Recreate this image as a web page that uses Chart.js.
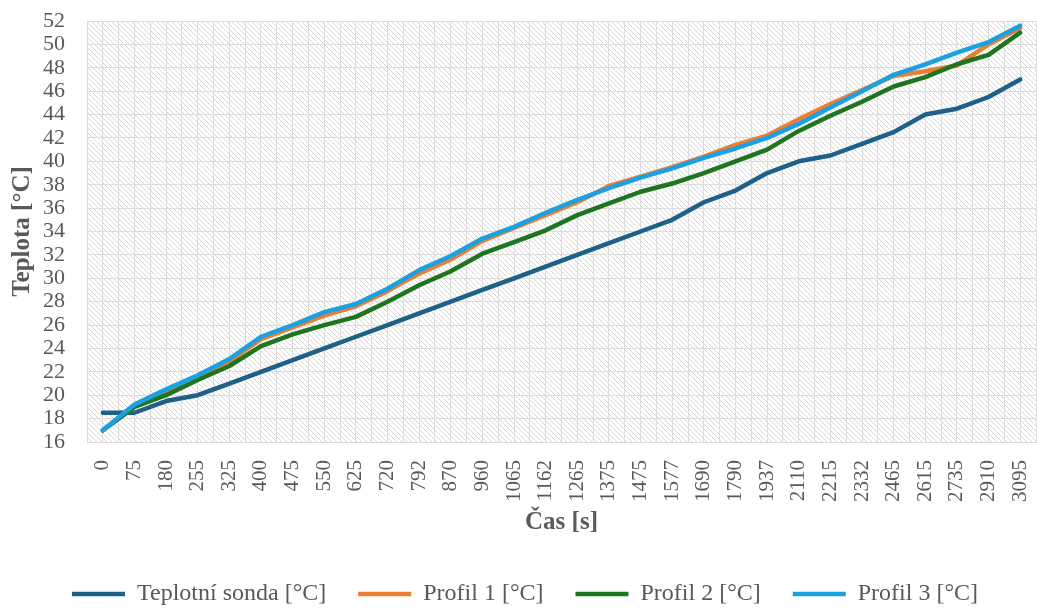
<!DOCTYPE html>
<html lang="cs">
<head>
    <meta charset="UTF-8">
    <title>Teplota v čase</title>
    <script src="https://cdn.jsdelivr.net/npm/chart.js"></script>
    <style>
        html, body { margin: 0; padding: 0; background: #fff; overflow: hidden; }
        #wrap { width: 1037px; height: 608px; }
    </style>
</head>
<body>
<div id="wrap"><canvas id="tempChart" width="1037" height="608"></canvas></div>

<script>
    // data
    const casLabels = ['0', '75', '180', '255', '325', '400', '475', '550', '625', '720', '792', '870', '960', '1065', '1162',
        '1265', '1375', '1475', '1577', '1690', '1790', '1937', '2110', '2215', '2332', '2465', '2615', '2735', '2910', '3095'];

    const sonda = [18.5, 18.5, 19.5, 20, 21, 22, 23, 24, 25, 26, 27, 28, 29, 30, 31,
        32, 33, 34, 35, 36.5, 37.5, 39, 40, 40.5, 41.5, 42.5, 44, 44.5, 45.5, 47];
    const profil1 = [17, 19, 20.3, 21.6, 22.9, 24.8, 25.8, 26.8, 27.6, 28.9, 30.4, 31.6, 33.2, 34.3, 35.4,
        36.5, 37.9, 38.7, 39.5, 40.4, 41.4, 42.2, 43.6, 44.9, 46.1, 47.3, 47.7, 48.2, 50, 51.4];
    const profil2 = [17, 19, 20, 21.3, 22.5, 24.2, 25.2, 26, 26.7, 28, 29.4, 30.6, 32.1, 33.1, 34.1,
        35.4, 36.4, 37.4, 38.1, 39, 40, 41, 42.6, 43.9, 45.1, 46.4, 47.2, 48.3, 49.1, 51];
    const profil3 = [17, 19.2, 20.5, 21.7, 23.1, 25, 26, 27.1, 27.8, 29.1, 30.7, 31.9, 33.4, 34.4, 35.6,
        36.7, 37.7, 38.6, 39.4, 40.3, 41.1, 42, 43.2, 44.6, 46, 47.4, 48.3, 49.3, 50.2, 51.6];

    const seriesNames = ['Teplotní sonda [°C]', 'Profil 1 [°C]', 'Profil 2 [°C]', 'Profil 3 [°C]'];
    const seriesColors = ['#1f6088', '#ed7d31', '#1f7420', '#1ba1e2'];
    const yTicks = { min: 16, max: 52, step: 2 };

    const textColor = '#595959';
    const gridColor = '#dcdcdc';
    const fontFamily = "'Liberation Serif', 'Times New Roman', serif";

    // hatched plot background (Excel pattern fill)
    function makeHatch() {
        const c = document.createElement('canvas');
        c.width = 5; c.height = 5;
        const g = c.getContext('2d');
        g.fillStyle = '#ffffff';
        g.fillRect(0, 0, 5, 5);
        g.fillStyle = '#d8d8d8';
        for (let i = 0; i < 5; i++) g.fillRect(i, i, 1, 1);
        return g.createPattern(c, 'repeat');
    }

    const hatchPlugin = {
        id: 'hatch',
        beforeDraw(chart) {
            const a = chart.chartArea;
            const ctx = chart.ctx;
            ctx.save();
            ctx.fillStyle = makeHatch();
            ctx.fillRect(a.left, a.top, a.right - a.left, a.bottom - a.top);
            ctx.restore();
        }
    };

    function line(label, data, color, order) {
        return {
            label: label,
            data: data,
            borderColor: color,
            backgroundColor: color,
            borderWidth: 4.5,
            pointRadius: 0,
            pointHoverRadius: 0,
            tension: 0,
            borderCapStyle: 'round',
            borderJoinStyle: 'round',
            fill: false,
            order: order
        };
    }

    const ctx = document.getElementById('tempChart').getContext('2d');
    const tempChart = new Chart(ctx, {
        type: 'line',
        data: {
            labels: casLabels,
            datasets: [
                line(seriesNames[0], sonda, seriesColors[0], 4),
                line(seriesNames[1], profil1, seriesColors[1], 3),
                line(seriesNames[2], profil2, seriesColors[2], 2),
                line(seriesNames[3], profil3, seriesColors[3], 1)
            ]
        },
        options: {
            responsive: false,
            animation: false,
            layout: { padding: { top: 21, right: 1, bottom: -8, left: 14 } },
            plugins: {
                tooltip: { enabled: false },
                legend: {
                    position: 'bottom',
                    labels: {
                        color: textColor,
                        font: { family: fontFamily, size: 24 },
                        usePointStyle: true,
                        pointStyle: 'line',
                        pointStyleWidth: 53,
                        padding: 2,
                        sort: (a, b) => a.datasetIndex - b.datasetIndex,
                        generateLabels: (chart) => {
                            const items = Chart.defaults.plugins.legend.labels.generateLabels(chart);
                            // wider gap between the legend entries
                            items.forEach((it) => {
                                if (it.datasetIndex < 3) it.text = it.text + '     ';
                            });
                            return items;
                        }
                    }
                }
            },
            scales: {
                x: {
                    type: 'category',
                    offset: true,
                    grid: { color: gridColor, lineWidth: 1, offset: false, drawTicks: false },
                    border: { color: '#d9d9d9', width: 1 },
                    ticks: {
                        color: textColor,
                        font: { family: fontFamily, size: 21 },
                        minRotation: 90,
                        maxRotation: 90,
                        autoSkip: false,
                        padding: 18
                    },
                    title: {
                        display: true,
                        text: 'Čas [s]',
                        color: textColor,
                        font: { family: fontFamily, size: 25, weight: 'bold' },
                        padding: { top: 0, bottom: 42 }
                    },
                    afterFit: (s) => { s.height = 138; s.paddingLeft = 0; s.paddingRight = 0; }
                },
                x2: {
                    type: 'category',
                    position: 'bottom',
                    offset: true,
                    grid: { color: gridColor, lineWidth: 1, offset: true, drawTicks: false },
                    border: { display: false },
                    ticks: { display: false },
                    afterFit: (s) => { s.height = 0; s.paddingLeft = 0; s.paddingRight = 0; }
                },
                y: {
                    min: yTicks.min,
                    max: yTicks.max,
                    grid: { color: gridColor, lineWidth: 1, drawTicks: false },
                    border: { color: gridColor, width: 1 },
                    ticks: {
                        stepSize: yTicks.step,
                        autoSkip: false,
                        color: textColor,
                        font: { family: fontFamily, size: 22 },
                        padding: 22
                    },
                    title: {
                        display: true,
                        text: 'Teplota [°C]',
                        color: textColor,
                        font: { family: fontFamily, size: 25, weight: 'bold' },
                        padding: { top: -6, bottom: 0 }
                    },
                    afterFit: (s) => { s.width = 73; s.paddingTop = 0; s.paddingBottom = 0; }
                }
            }
        },
        plugins: [hatchPlugin]
    });
</script>
</body>
</html>
